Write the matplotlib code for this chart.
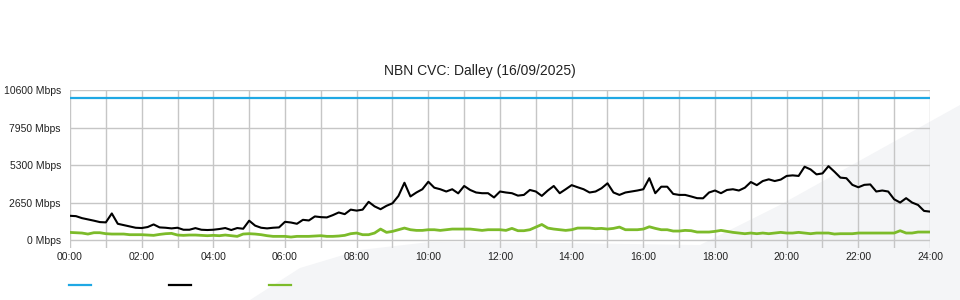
import numpy as np
import matplotlib
matplotlib.use("Agg")
import matplotlib.pyplot as plt
from matplotlib.lines import Line2D
from matplotlib.patches import Polygon

plt.rcParams["font.family"] = ["Liberation Sans", "DejaVu Sans"]

# Data: 10-minute samples from 00:00 to 24:00 (Mbps)
minutes = np.arange(0, 24 * 60 + 1, 10)
capacity = [10000] * len(minutes)
total = [
    1715, 1690, 1550, 1460, 1370, 1270, 1250, 1880, 1150, 1055, 965, 870,
    850, 920, 1105, 895, 870, 825, 870, 730, 730, 845, 730, 710,
    730, 780, 850, 710, 850, 800, 1370, 1020, 870, 825, 870, 895,
    1290, 1240, 1150, 1430, 1385, 1670, 1620, 1600, 1760, 1950, 1830, 2150,
    2080, 2150, 2700, 2380, 2180, 2420, 2600, 3120, 4050, 3080, 3360, 3590,
    4120, 3700, 3590, 3430, 3590, 3300, 3820, 3540, 3360, 3310, 3310, 3010,
    3430, 3360, 3310, 3140, 3190, 3540, 3430, 3120, 3500, 3820, 3310, 3590,
    3880, 3730, 3590, 3360, 3430, 3660, 4010, 3360, 3190, 3360, 3430, 3500,
    3590, 4370, 3310, 3770, 3770, 3260, 3190, 3190, 3080, 2960, 2950, 3360,
    3500, 3310, 3540, 3590, 3500, 3700, 4100, 3880, 4170, 4290, 4170, 4270,
    4530, 4570, 4530, 5180, 4990, 4640, 4710, 5220, 4830, 4410, 4370, 3900,
    3730, 3900, 3930, 3430, 3500, 3430, 2880, 2650, 2960, 2650, 2480, 2060,
    2010,
]
upload = [
    540, 520, 497, 426, 520, 520, 450, 426, 426, 426, 380, 380,
    380, 356, 333, 400, 450, 473, 356, 333, 356, 356, 333, 309,
    333, 309, 356, 309, 262, 426, 450, 426, 380, 309, 262, 262,
    262, 215, 262, 262, 262, 286, 309, 262, 262, 286, 333, 450,
    497, 380, 380, 497, 778, 544, 614, 731, 848, 731, 684, 684,
    731, 731, 684, 731, 778, 778, 778, 778, 731, 684, 731, 731,
    731, 684, 825, 661, 661, 731, 918, 1100, 848, 778, 731, 684,
    731, 848, 848, 848, 801, 825, 778, 825, 918, 731, 731, 731,
    778, 940, 825, 731, 731, 637, 637, 684, 661, 567, 567, 567,
    614, 684, 614, 544, 497, 450, 497, 450, 497, 450, 497, 544,
    497, 497, 544, 497, 450, 497, 497, 497, 426, 450, 450, 450,
    497, 497, 497, 497, 497, 497, 497, 660, 497, 497, 567, 567,
    567,
]
y_ticks = [0, 2650, 5300, 7950, 10600]
x_ticks = list(range(0, 25))
x_labels = [f"{h:02d}:00" if h % 2 == 0 else "" for h in x_ticks]

blue = "#1fa8e4"
black = "#000000"
green = "#7cbb2a"
grid_c = "#c6c6c6"

fig = plt.figure(figsize=(9.6, 3.0), dpi=100)

# faint background watermark shape (pixel coords, y down)
shape_px = [(250, 300), (300, 268), (360, 250), (430, 242), (560, 243),
            (700, 245), (780, 205), (960, 105), (960, 300)]
fig.patches.append(Polygon([(x / 960, 1 - y / 300) for x, y in shape_px],
                           closed=True, transform=fig.transFigure,
                           facecolor="#f4f5f7", edgecolor="none", zorder=-5))

ax = fig.add_axes([70 / 960, 1 - 248 / 300, 860 / 960, 158 / 300])
ax.set_zorder(2)
ax.patch.set_alpha(0)

hours = minutes / 60
ax.plot(hours, capacity, color=blue, lw=1.6, zorder=3)
ax.plot(hours, upload, color=green, lw=2.0, zorder=3)
ax.plot(hours, total, color=black, lw=1.5, zorder=4)

ax.set_xlim(0, 24)
ax.set_ylim(-560, 10600)
ax.set_xticks(x_ticks)
ax.set_xticklabels(x_labels)
ax.set_yticks(y_ticks)
ax.set_yticklabels([f"{v} Mbps" for v in y_ticks])
ax.grid(True, color=grid_c, lw=1.0)
ax.set_axisbelow(True)
for s in ax.spines.values():
    s.set_visible(False)
ax.tick_params(length=0, labelsize=7.5, colors="#222222")
ax.tick_params(axis="y", pad=6.5)
ax.tick_params(axis="x", pad=3)

fig.text(0.5, 1 - 71 / 300, "NBN CVC: Dalley (16/09/2025)", ha="center",
         va="center", fontsize=10, color="#222222")

# legend swatches (no labels in the original)
for x0, c in [(69, blue), (169, black), (269, green)]:
    fig.add_artist(Line2D([x0 / 960, (x0 + 22) / 960], [1 - 285 / 300] * 2,
                          color=c, lw=1.6, transform=fig.transFigure))

fig.savefig("out.png", dpi=100)
